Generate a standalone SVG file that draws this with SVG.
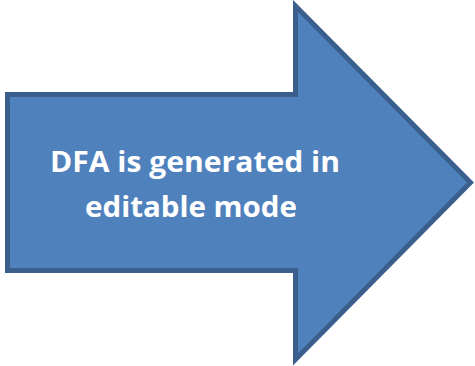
<svg xmlns="http://www.w3.org/2000/svg" width="475" height="366" viewBox="0 0 475 366">
<style>
.arrow{fill:#4F81BD;stroke:#3A5F8D;stroke-width:5;stroke-linejoin:miter}
.lbl{font-family:"Open Sans","Liberation Sans",sans-serif;font-weight:bold;font-size:29px;fill:#FFFFFF;text-anchor:middle}
</style>
<rect width="475" height="366" fill="#FFFFFF"/>
<g id="arrow">
<path class="arrow" d="M7.5,94.5 H295.5 V6 L470.5,182.5 L295.5,359.5 V270.5 H7.5 Z"/>
<text class="lbl" x="195" y="172" textLength="290" lengthAdjust="spacingAndGlyphs">DFA is generated in</text>
<text class="lbl" x="191" y="217" textLength="212" lengthAdjust="spacingAndGlyphs">editable mode</text>
</g>
</svg>
